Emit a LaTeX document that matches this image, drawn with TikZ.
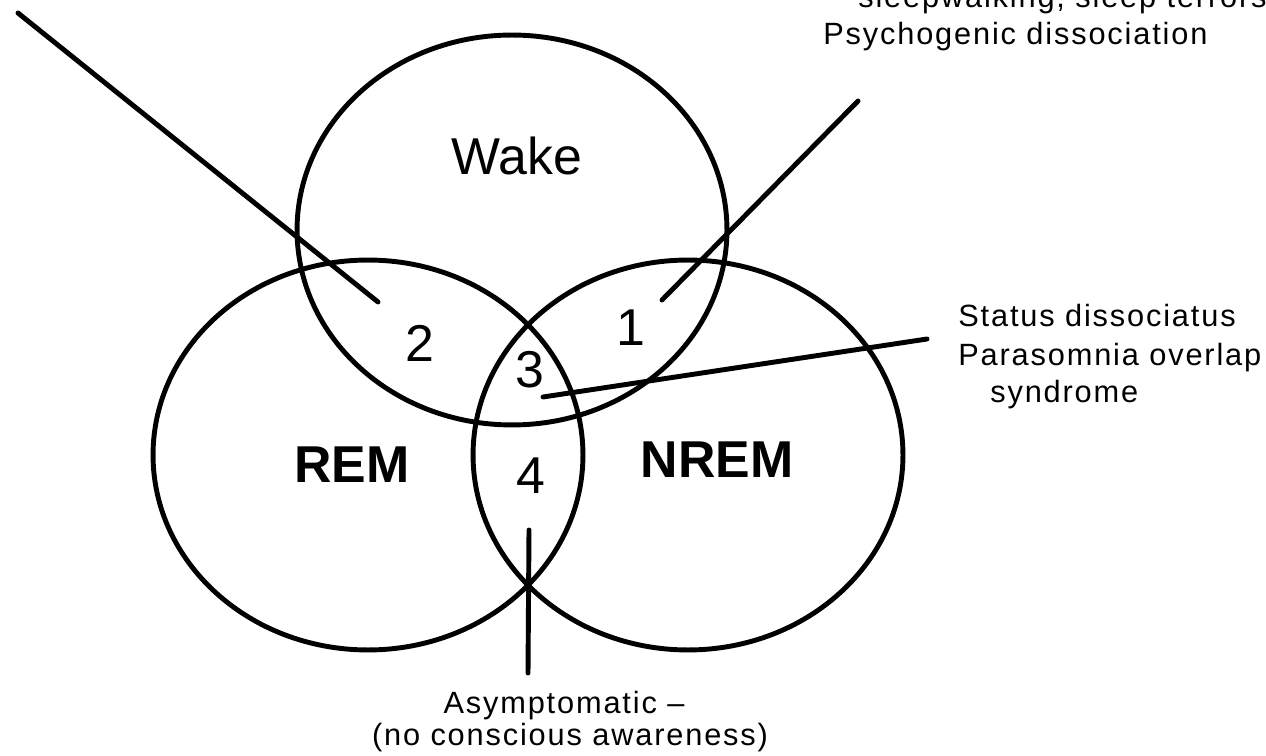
\documentclass[tikz,border=0pt]{standalone}
\usepackage{fontspec}
\setmainfont{Liberation Sans}
\newfontfamily\lblfont[LetterSpace=6]{Liberation Sans}
\usetikzlibrary{shapes.geometric}
\begin{document}
\begin{tikzpicture}[x=0.02cm,y=-0.02cm,
  venn/.style={ellipse,draw,line width=2.8pt,minimum width=8.6cm,minimum height=7.8cm,inner sep=0pt},
  pointer/.style={line width=2.8pt,line cap=round},
  big/.style={font=\fontsize{29.5}{35}\selectfont,inner sep=0pt},
  bigbold/.style={font=\fontsize{29.5}{35}\selectfont\bfseries,inner sep=0pt},
  num/.style={font=\fontsize{29.5}{35}\selectfont,inner sep=0pt},
  note/.style={font=\lblfont\fontsize{17.5}{21}\selectfont,anchor=base west,inner sep=0pt},
  notec/.style={font=\lblfont\fontsize{17.5}{21}\selectfont,anchor=base,inner sep=0pt},
]
\useasboundingbox (0,0) rectangle (1266,756);
\clip (0,0) rectangle (1266,756);
\fill[white] (0,0) rectangle (1266,756);

% circles
\node (wake) [venn] at (512,230) {};
\node (rem)  [venn] at (368,455) {};
\node (nrem) [venn] at (688,455) {};

% labels
\node (twake) [big] at (517,156) {Wake};
\node (trem) [bigbold] at (352,465) {REM};
\node (tnrem) [bigbold] at (717,460) {NREM};
\node (n1) [num] at (631,328) {1};
\node (n2) [num] at (420,343) {2};
\node (n3) [num] at (530,370) {3};
\node (n4) [num] at (531,476) {4};

% notes
\node (topA) [note] at (858,8) {sleepwalking, sleep terrors,};
\node (topB) [note] at (823,45) {Psychogenic dissociation};
\node (rA) [note] at (958,327) {Status dissociatus};
\node (rB) [note] at (958,365) {Parasomnia overlap};
\node (rC) [note] at (990,402) {syndrome};
\node (bA) [notec] at (564,713) {Asymptomatic –};
\node (bB) [notec] at (570,745) {(no conscious awareness)};

% pointer lines
\coordinate (p2a) at (18,13);
\coordinate (p2b) at (378,302);
\coordinate (p1a) at (858,101);
\coordinate (p1b) at (662,300);
\coordinate (p3a) at (927,339);
\coordinate (p3b) at (543,397);
\coordinate (p4a) at (529,530);
\coordinate (p4b) at (528,673);
\draw[pointer] (p2a) -- (p2b);
\draw[pointer] (p1a) -- (p1b);
\draw[pointer] (p3a) -- (p3b);
\draw[pointer] (p4a) -- (p4b);
\end{tikzpicture}
\end{document}
